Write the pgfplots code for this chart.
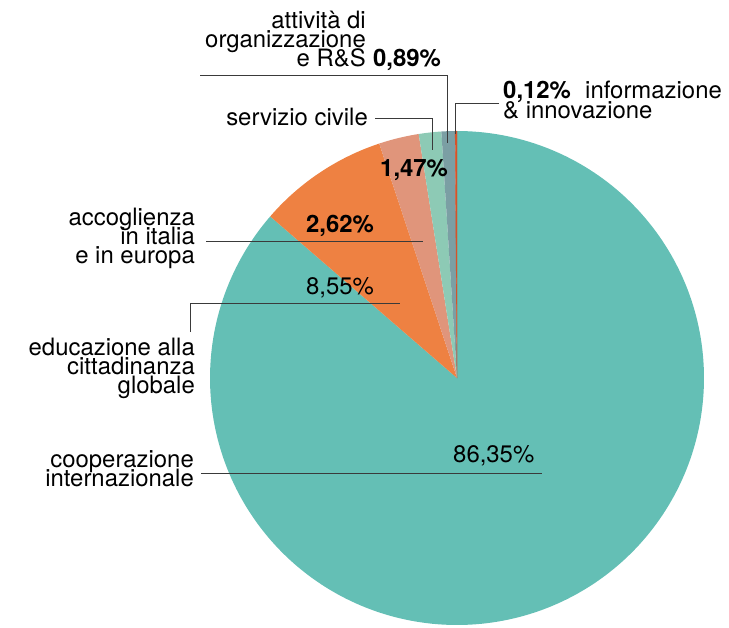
\documentclass[border=0pt]{standalone}
\usepackage{fontspec}
\setmainfont{TeX Gyre Heros}
\usepackage{pgfplots}
\pgfplotsset{compat=1.18}
\definecolor{cTeal}{HTML}{64BFB5}
\definecolor{cOrange}{HTML}{EE8142}
\definecolor{cSalmon}{HTML}{E0957B}
\definecolor{cMint}{HTML}{8DCAB5}
\definecolor{cGrey}{HTML}{7B9FA4}
\definecolor{cRed}{HTML}{D4532A}
\definecolor{cLine}{HTML}{3A3A3A}
\newcommand\lf{\fontsize{24}{19}\selectfont}
\tikzset{lbl/.style={inner sep=0pt, font=\lf},
         num/.style={inner sep=0pt, font=\lf\bfseries}}
% shares (percent), counter-clockwise from the top
\def\vRed{0.12}
\def\vGrey{0.89}
\def\vMint{1.47}
\def\vSalmon{2.62}
\def\vOrange{8.55}
\def\vTeal{86.35}
\pgfmathsetmacro\aA{90}
\pgfmathsetmacro\aB{\aA+3.6*\vRed}
\pgfmathsetmacro\aC{\aB+3.6*\vGrey}
\pgfmathsetmacro\aD{\aC+3.6*\vMint}
\pgfmathsetmacro\aE{\aD+3.6*\vSalmon}
\pgfmathsetmacro\aF{\aE+3.6*\vOrange}
\pgfmathsetmacro\aG{\aF+3.6*\vTeal}
\def\cx{457}
\def\cy{378}
\def\rr{247}
\begin{document}
\begin{tikzpicture}
\begin{axis}[
  width=729bp, height=628bp, scale only axis,
  xmin=0, xmax=729, ymin=0, ymax=628, y dir=reverse,
  hide axis, clip=false,
]
\path (axis cs:0,0) (axis cs:729,628);
\addplot[fill=cTeal, draw=none, domain=\aF:\aG, samples=240, variable=\t] ({\cx+\rr*cos(\t)},{\cy-\rr*sin(\t)}) -- (axis cs:\cx,\cy) -- cycle;
\addplot[fill=cOrange, draw=none, domain=\aE:\aF, samples=40, variable=\t] ({\cx+\rr*cos(\t)},{\cy-\rr*sin(\t)}) -- (axis cs:\cx,\cy) -- cycle;
\addplot[fill=cSalmon, draw=none, domain=\aD:\aE, samples=15, variable=\t] ({\cx+\rr*cos(\t)},{\cy-\rr*sin(\t)}) -- (axis cs:\cx,\cy) -- cycle;
\addplot[fill=cMint, draw=none, domain=\aC:\aD, samples=10, variable=\t] ({\cx+\rr*cos(\t)},{\cy-\rr*sin(\t)}) -- (axis cs:\cx,\cy) -- cycle;
\addplot[fill=cGrey, draw=none, domain=\aB:\aC, samples=6, variable=\t] ({\cx+\rr*cos(\t)},{\cy-\rr*sin(\t)}) -- (axis cs:\cx,\cy) -- cycle;
\addplot[fill=cRed, draw=cRed, line width=0.4bp, domain=\aA:\aB, samples=4, variable=\t] ({\cx+\rr*cos(\t)},{\cy-\rr*sin(\t)}) -- (axis cs:\cx,\cy) -- cycle;
% leader lines
\addplot[cLine, line width=0.8bp, no marks] coordinates {(200,75) (447,75) (447,143)};
\addplot[cLine, line width=0.8bp, no marks] coordinates {(375,118) (432,118) (432,150)};
\addplot[cLine, line width=0.8bp, no marks] coordinates {(499,103) (455.5,103) (455.5,134)};
\addplot[cLine, line width=0.8bp, no marks] coordinates {(206,241) (423,241)};
\addplot[cLine, line width=0.8bp, no marks] coordinates {(190,332) (190,303) (400,303)};
\addplot[cLine, line width=0.8bp, no marks] coordinates {(201,473) (542,473)};
% texts
\node[lbl, anchor=base east] at (axis cs:366,29) {attività di};
\node[lbl, anchor=base east] at (axis cs:366,48) {organizzazione};
\node[lbl, anchor=base east] at (axis cs:366,67) {e R\&S};
\node[num, anchor=base west] at (axis cs:373,67) {0,89\%};
\node[lbl, anchor=base east] at (axis cs:368,125) {servizio civile};
\node[num, anchor=base west] at (axis cs:380,176) {1,47\%};
\node[num, anchor=base west] at (axis cs:503,98) {0,12\%};
\node[lbl, anchor=base west] at (axis cs:585,98) {informazione};
\node[lbl, anchor=base west] at (axis cs:503,118) {\& innovazione};
\node[lbl, anchor=base east] at (axis cs:195,225) {accoglienza};
\node[lbl, anchor=base east] at (axis cs:195,244) {in italia};
\node[lbl, anchor=base east] at (axis cs:195,263) {e in europa};
\node[num, anchor=base west] at (axis cs:306,232) {2,62\%};
\node[lbl, anchor=base west] at (axis cs:306,294) {8,55\%};
\node[lbl, anchor=base east] at (axis cs:195,355) {educazione alla};
\node[lbl, anchor=base east] at (axis cs:195,374) {cittadinanza};
\node[lbl, anchor=base east] at (axis cs:195,393) {globale};
\node[lbl, anchor=base east] at (axis cs:194,467) {cooperazione};
\node[lbl, anchor=base east] at (axis cs:194,486) {internazionale};
\node[lbl, anchor=base west] at (axis cs:453,462) {86,35\%};
\end{axis}
\end{tikzpicture}
\end{document}
